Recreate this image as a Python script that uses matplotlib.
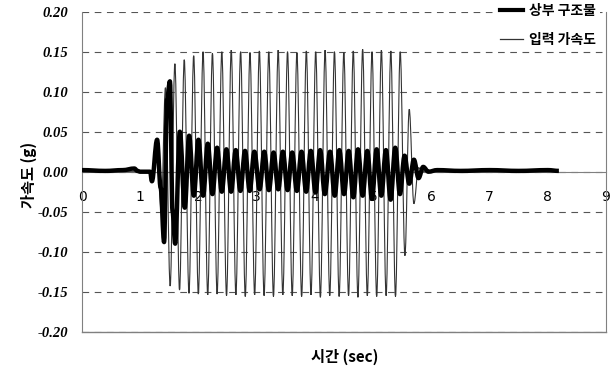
import matplotlib
matplotlib.use("Agg")
import matplotlib.pyplot as plt
from matplotlib.lines import Line2D
from matplotlib.path import Path
from matplotlib.patches import PathPatch

# Input (table) acceleration: turning points of the sine excitation, time [s] / acceleration [g]
input_t = [0.00, 1.22, 1.30, 1.36, 1.433, 1.514, 1.595, 1.675, 1.756, 1.837, 1.918,
           1.998, 2.079, 2.159, 2.240, 2.320, 2.401, 2.482, 2.563, 2.643, 2.724,
           2.804, 2.885, 2.965, 3.046, 3.127, 3.208, 3.288, 3.369, 3.449, 3.530,
           3.610, 3.691, 3.772, 3.853, 3.933, 4.014, 4.094, 4.175, 4.255, 4.336,
           4.416, 4.497, 4.578, 4.659, 4.739, 4.820, 4.900, 4.981, 5.061, 5.142,
           5.223, 5.304, 5.384, 5.465, 5.546, 5.620, 5.700, 5.780, 5.850, 8.19]
input_a = [0.000, 0.000, 0.020, -0.050, 0.105, -0.143, 0.135, -0.148, 0.140, -0.152, 0.145,
           -0.153, 0.150, -0.154, 0.148, -0.153, 0.150, -0.155, 0.152, -0.154, 0.150,
           -0.156, 0.149, -0.154, 0.151, -0.155, 0.150, -0.156, 0.152, -0.154, 0.150,
           -0.155, 0.149, -0.156, 0.151, -0.154, 0.150, -0.157, 0.152, -0.155, 0.150,
           -0.156, 0.149, -0.155, 0.151, -0.157, 0.153, -0.155, 0.150, -0.156, 0.152,
           -0.155, 0.151, -0.156, 0.150, -0.105, 0.078, -0.040, 0.005, 0.000, 0.000]

# Superstructure response: turning points, time [s] / acceleration [g]
struct_t = [0.00, 0.40, 0.70, 0.90, 0.95, 1.00, 1.17, 1.20, 1.29, 1.35, 1.41, 1.46,
            1.51, 1.555, 1.60, 1.68, 1.765, 1.84, 1.92, 2.00, 2.08, 2.16, 2.24, 2.32,
            2.40, 2.48, 2.56, 2.64, 2.72, 2.80, 2.88, 2.96, 3.05, 3.13, 3.21, 3.29,
            3.37, 3.45, 3.53, 3.61, 3.69, 3.77, 3.85, 3.93, 4.01, 4.09, 4.17, 4.26,
            4.34, 4.42, 4.50, 4.58, 4.66, 4.74, 4.82, 4.90, 4.98, 5.06, 5.14, 5.22,
            5.30, 5.38, 5.46, 5.54, 5.62, 5.70, 5.78, 5.86, 5.95, 6.10, 6.50, 7.00,
            7.50, 8.00, 8.19]
struct_a = [0.002, 0.001, 0.002, 0.004, 0.001, 0.000, 0.000, -0.012, 0.040, -0.020, -0.088, 0.090,
            0.113, -0.050, -0.090, 0.050, -0.045, 0.045, -0.030, 0.040, -0.030, 0.035, -0.028, 0.030,
            -0.025, 0.028, -0.025, 0.027, -0.024, 0.026, -0.024, 0.025, -0.022, 0.025, -0.023, 0.024,
            -0.022, 0.025, -0.023, 0.024, -0.024, 0.025, -0.025, 0.026, -0.026, 0.027, -0.028, 0.025,
            -0.030, 0.027, -0.028, 0.026, -0.032, 0.028, -0.030, 0.026, -0.034, 0.028, -0.030, 0.027,
            -0.035, 0.030, -0.028, 0.020, -0.015, 0.015, -0.008, 0.006, 0.000, 0.002, 0.001, 0.002,
            0.001, 0.002, 0.001]

x_ticks = [0, 1, 2, 3, 4, 5, 6, 7, 8, 9]
y_ticks = [-0.20, -0.15, -0.10, -0.05, 0.00, 0.05, 0.10, 0.15, 0.20]
y_ticklabels = ["-0.20", "-0.15", "-0.10", "-0.05", "0.00", "0.05", "0.10", "0.15", "0.20"]

KR = ["Noto Sans CJK KR", "DejaVu Sans"]
NUM = dict(family="Liberation Serif", weight="bold", style="italic", size=10.5)


def smooth_path(ts, vs, k=0.36):
    """Cubic Bezier through turning points with flat tangents at each extremum."""
    verts = [(ts[0], vs[0])]
    codes = [Path.MOVETO]
    for (t0, v0), (t1, v1) in zip(zip(ts[:-1], vs[:-1]), zip(ts[1:], vs[1:])):
        d = t1 - t0
        verts += [(t0 + k * d, v0), (t1 - k * d, v1), (t1, v1)]
        codes += [Path.CURVE4] * 3
    return Path(verts, codes)


fig = plt.figure(figsize=(6.13, 3.74), dpi=100)
ax = fig.add_axes([0.1338, 0.1131, 0.8548, 0.8556])

ax.add_patch(PathPatch(smooth_path(input_t, input_a), facecolor="none",
                       edgecolor="#333333", lw=0.8, zorder=3))
ax.add_patch(PathPatch(smooth_path(struct_t, struct_a), facecolor="none",
                       edgecolor="black", lw=3.2, zorder=4, joinstyle="round"))

ax.set_xlim(0, 9)
ax.set_ylim(-0.2, 0.2)
ax.set_xticks(x_ticks)
ax.set_xticklabels([str(v) for v in x_ticks], fontdict=NUM)
ax.set_yticks(y_ticks)
ax.set_yticklabels(y_ticklabels, fontdict=NUM)
ax.tick_params(axis="x", length=0, pad=13)
ax.tick_params(axis="y", length=0, pad=10)

# horizontal axis crosses at zero
ax.spines["bottom"].set_position(("data", 0))
for s in ("bottom", "left", "right"):
    ax.spines[s].set_color("#808080")
    ax.spines[s].set_linewidth(0.8)
ax.spines["top"].set_visible(False)
ax.axhline(-0.2, color="#808080", lw=1.0, zorder=1, clip_on=False)

ax.yaxis.grid(True, color="#555555", lw=0.8, linestyle=(0, (6, 5)), zorder=0)
ax.set_axisbelow(True)

handles = [Line2D([], [], color="black", lw=3.0), Line2D([], [], color="#333333", lw=0.9)]
leg = fig.legend(handles, ["상부 구조물", "입력 가속도"], loc="upper right",
                 bbox_to_anchor=(0.99, 1.02),
                 prop={"family": KR, "size": 10, "weight": "bold"},
                 frameon=True, facecolor="white", edgecolor="none", framealpha=1,
                 handlelength=1.7, handletextpad=0.4, labelspacing=1.1,
                 borderpad=0.3, fancybox=False)
leg.set_zorder(10)

fig.text(0.047, 0.532, "가속도 (g)", rotation=90, ha="center", va="center",
         family=KR, size=11, weight="bold")
fig.text(0.5628, 0.0455, "시간 (sec)", ha="center", va="center", family=KR,
         size=11, weight="bold")

fig.savefig("out.png", dpi=100, facecolor="white")
